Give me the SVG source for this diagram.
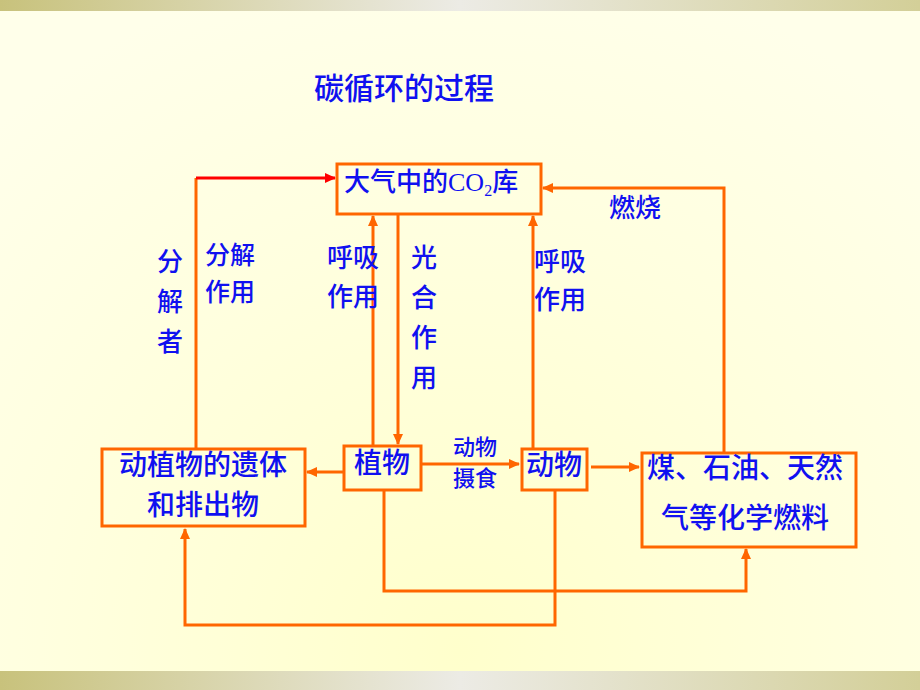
<svg xmlns="http://www.w3.org/2000/svg" width="920" height="690" viewBox="0 0 920 690">
<defs>
<radialGradient id="bg" cx="460" cy="650" r="700" gradientUnits="userSpaceOnUse">
<stop offset="0" stop-color="#ffffcc"/>
<stop offset="0.6" stop-color="#ffffdf"/>
<stop offset="1" stop-color="#ffffea"/>
</radialGradient>
<linearGradient id="band" x1="0" y1="0" x2="920" y2="0" gradientUnits="userSpaceOnUse">
<stop offset="0" stop-color="#c8c27c"/>
<stop offset="0.5" stop-color="#ecebe5"/>
<stop offset="1" stop-color="#d3cf98"/>
</linearGradient>
<marker id="ao" markerUnits="userSpaceOnUse" markerWidth="11" markerHeight="10" refX="10" refY="5" orient="auto">
<path d="M0,0 L11,5 L0,10 z" fill="#ff6600"/>
</marker>
<marker id="ar" markerUnits="userSpaceOnUse" markerWidth="11" markerHeight="10" refX="10" refY="5" orient="auto">
<path d="M0,0 L11,5 L0,10 z" fill="#ff0000"/>
</marker>
</defs>
<style>
.box{fill:none;stroke:#ff6600;stroke-width:3}
.ln{fill:none;stroke:#ff6600;stroke-width:3;marker-end:url(#ao)}
.pl{fill:none;stroke:#ff6600;stroke-width:3}
.t{font-family:"Noto Sans CJK SC","Noto Sans",sans-serif;fill:#1010f0;text-anchor:middle;font-weight:500}
.f30{font-size:30px}
.f28{font-size:28px}
.f26{font-size:26px}
.f25{font-size:25px}
.f22{font-size:22px}
</style>
<rect x="0" y="0" width="920" height="690" fill="url(#bg)"/>
<rect x="0" y="0" width="920" height="11" fill="url(#band)"/>
<rect x="0" y="671" width="920" height="19" fill="url(#band)"/>

<text class="t f30" x="404" y="99">碳循环的过程</text>

<g id="connectors">
<path class="pl" d="M196,449 L196,178"/>
<path d="M196,178 L335,178" fill="none" stroke="#ff0000" stroke-width="3" marker-end="url(#ar)"/>
<path class="ln" d="M373,446 L373,216"/>
<path class="ln" d="M398,214 L398,444"/>
<path class="ln" d="M533,449 L533,216"/>
<path class="ln" d="M724,453 L724,188 L543,188"/>
<path class="ln" d="M343,472 L307,472"/>
<path class="ln" d="M421,464 L519,464"/>
<path class="ln" d="M591,467 L639,467"/>
<path class="ln" d="M384,490 L384,591 L746,591 L746,549"/>
<path class="ln" d="M555,490 L555,625 L185,625 L185,529"/>
</g>

<g id="labels">
<text class="t f26" x="170" y="271">分</text>
<text class="t f26" x="170" y="311">解</text>
<text class="t f26" x="170" y="351">者</text>
<text class="t f25" x="230" y="264">分解</text>
<text class="t f25" x="230" y="301">作用</text>
<text class="t f26" x="353" y="267">呼吸</text>
<text class="t f26" x="353" y="306">作用</text>
<text class="t f26" x="424" y="267">光</text>
<text class="t f26" x="424" y="307">合</text>
<text class="t f26" x="424" y="347">作</text>
<text class="t f26" x="424" y="387">用</text>
<text class="t f26" x="560" y="271">呼吸</text>
<text class="t f26" x="560" y="309">作用</text>
<text class="t f26" x="635" y="217">燃烧</text>
<text class="t f22" x="475" y="455">动物</text>
<text class="t f22" x="475" y="486">摄食</text>
</g>

<g id="node-co2">
<rect class="box" x="337" y="164" width="204" height="50"/>
<text class="t f26" x="344" y="191" style="text-anchor:start">大气中的<tspan font-family="Liberation Serif, serif">CO</tspan><tspan font-family="Liberation Serif, serif" font-size="16" dy="5">2</tspan><tspan dy="-5">库</tspan></text>
</g>
<g id="node-remains">
<rect class="box" x="102" y="449" width="203" height="77"/>
<text class="t f28" x="203" y="475">动植物的遗体</text>
<text class="t f28" x="203" y="515">和排出物</text>
</g>
<g id="node-plant">
<rect class="box" x="344" y="446" width="77" height="44"/>
<text class="t f28" x="382" y="473">植物</text>
</g>
<g id="node-animal">
<rect class="box" x="522" y="449" width="65" height="41"/>
<text class="t f28" x="554" y="475">动物</text>
</g>
<g id="node-fuel">
<rect class="box" x="642" y="453" width="214" height="94"/>
<text class="t f28" x="745" y="478">煤、石油、天然</text>
<text class="t f28" x="745" y="528">气等化学燃料</text>
</g>
</svg>
